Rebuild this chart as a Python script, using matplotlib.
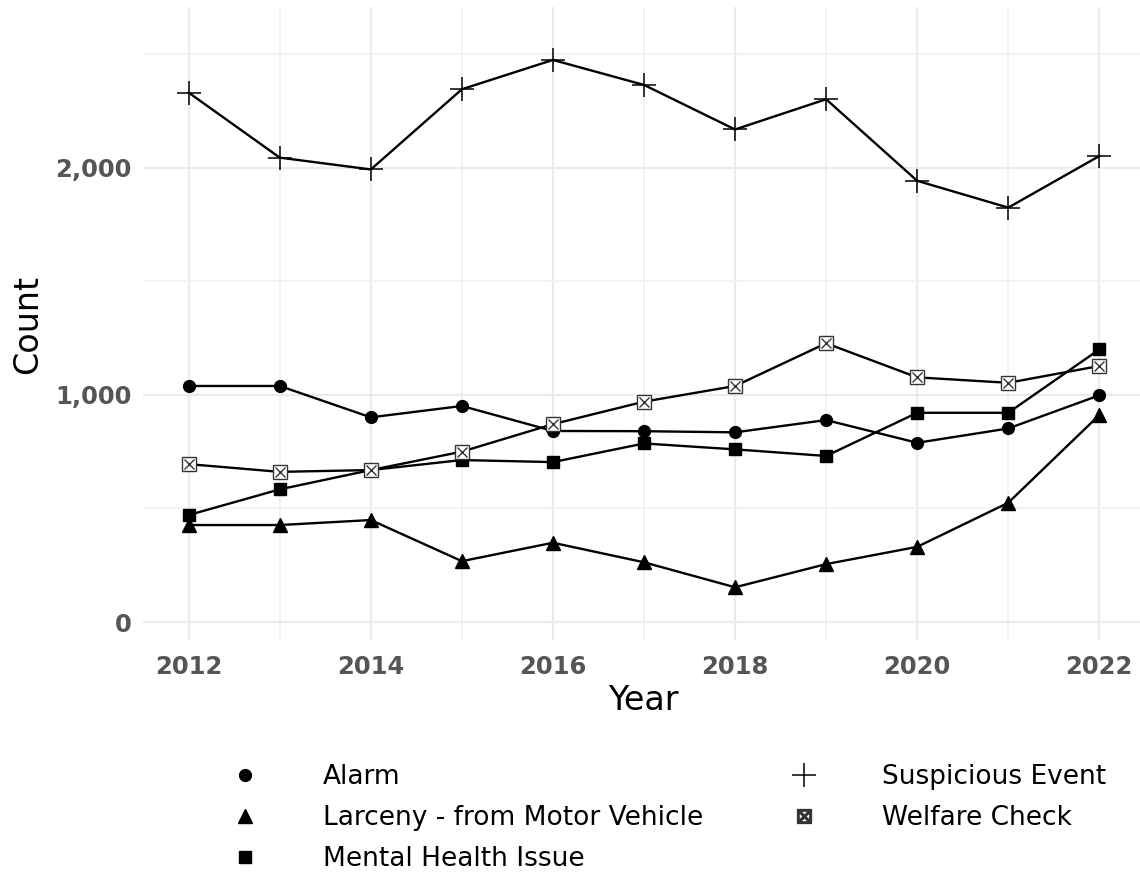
import matplotlib
matplotlib.use("Agg")
import matplotlib.pyplot as plt
from matplotlib.ticker import FuncFormatter, MultipleLocator
from matplotlib.lines import Line2D

years = [2012, 2013, 2014, 2015, 2016, 2017, 2018, 2019, 2020, 2021, 2022]
alarm = [1039, 1039, 901, 951, 841, 840, 835, 889, 789, 852, 998]
larceny = [427, 427, 449, 268, 349, 263, 153, 255, 331, 525, 911]
mental = [471, 584, 669, 713, 704, 786, 760, 731, 921, 921, 1200]
suspicious = [2330, 2044, 1992, 2345, 2474, 2364, 2168, 2301, 1942, 1824, 2051]
welfare = [695, 661, 669, 750, 871, 970, 1039, 1227, 1077, 1053, 1127]

labels = ["Alarm", "Larceny - from Motor Vehicle", "Mental Health Issue",
          "Suspicious Event", "Welfare Check"]

plt.rcParams['font.family'] = ['DejaVu Sans']

W, H = 1140, 874
fig = plt.figure(figsize=(W / 100, H / 100), dpi=100)
ax = fig.add_axes([143 / W, (H - 640) / H, (W - 143) / W, 633 / H])

lw = 1.7
ax.plot(years, alarm, color='black', lw=lw, marker='o', ms=8.5, zorder=3)
ax.plot(years, larceny, color='black', lw=lw, marker='^', ms=9.5, zorder=3)
ax.plot(years, mental, color='black', lw=lw, marker='s', ms=8.5, zorder=3)
ax.plot(years, suspicious, color='black', lw=lw, marker='+', ms=17, mew=1.1, zorder=3)
ax.plot(years, welfare, color='black', lw=lw, marker='s', ms=9.5, mfc='white',
        mec='#333333', mew=1.0, zorder=3)
ax.plot(years, welfare, lw=0, marker='x', ms=7, mec='#333333', mew=1.0, zorder=4)

ax.set_xlim(2011.498, 2022.447)
ax.set_ylim(-79, 2707)

ax.xaxis.set_major_locator(MultipleLocator(2))
ax.xaxis.set_minor_locator(MultipleLocator(1))
ax.yaxis.set_major_locator(MultipleLocator(1000))
ax.yaxis.set_minor_locator(MultipleLocator(500))
ax.yaxis.set_major_formatter(FuncFormatter(lambda v, p: f"{int(v):,}"))

ax.grid(True, which='major', color='#ebebeb', lw=1.6)
ax.grid(True, which='minor', color='#f0f0f0', lw=1.2)
ax.set_axisbelow(True)
for s in ax.spines.values():
    s.set_visible(False)
ax.tick_params(which='both', length=0)
ax.tick_params(axis='x', pad=11, labelsize=17.5, labelcolor='#555555')
ax.tick_params(axis='y', pad=8, labelsize=17.5, labelcolor='#555555')
for t in ax.get_xticklabels() + ax.get_yticklabels():
    t.set_fontweight('bold')

ax.set_xlabel("Year", fontsize=24, va='center')
ax.set_ylabel("Count", fontsize=24, va='center')
ax.xaxis.set_label_coords((643 - 143) / 997, (640 - 700) / 633)
ax.yaxis.set_label_coords((28 - 143) / 997, (640 - 325) / 633)

fs = 19
fpx = fs * 100 / 72
handles = [
    Line2D([], [], color='black', lw=0, marker='o', ms=8.5),
    Line2D([], [], color='black', lw=0, marker='^', ms=9.5),
    Line2D([], [], color='black', lw=0, marker='s', ms=8.5),
    Line2D([], [], color='black', lw=0, marker='+', ms=17, mew=1.1),
    Line2D([], [], color='#333333', lw=0, marker='$\u22A0$', ms=10),
]
leg = fig.legend(handles, labels, ncol=2, loc='center left',
                 bbox_to_anchor=((245 - fpx / 2) / W, 1 - 818 / H),
                 frameon=False, fontsize=fs, handlelength=1.0,
                 handletextpad=(323 - 245 - fpx / 2) / fpx,
                 columnspacing=3.33, labelspacing=0.56,
                 borderpad=0, borderaxespad=0)

fig.savefig("out.png", dpi=100, facecolor='white')
